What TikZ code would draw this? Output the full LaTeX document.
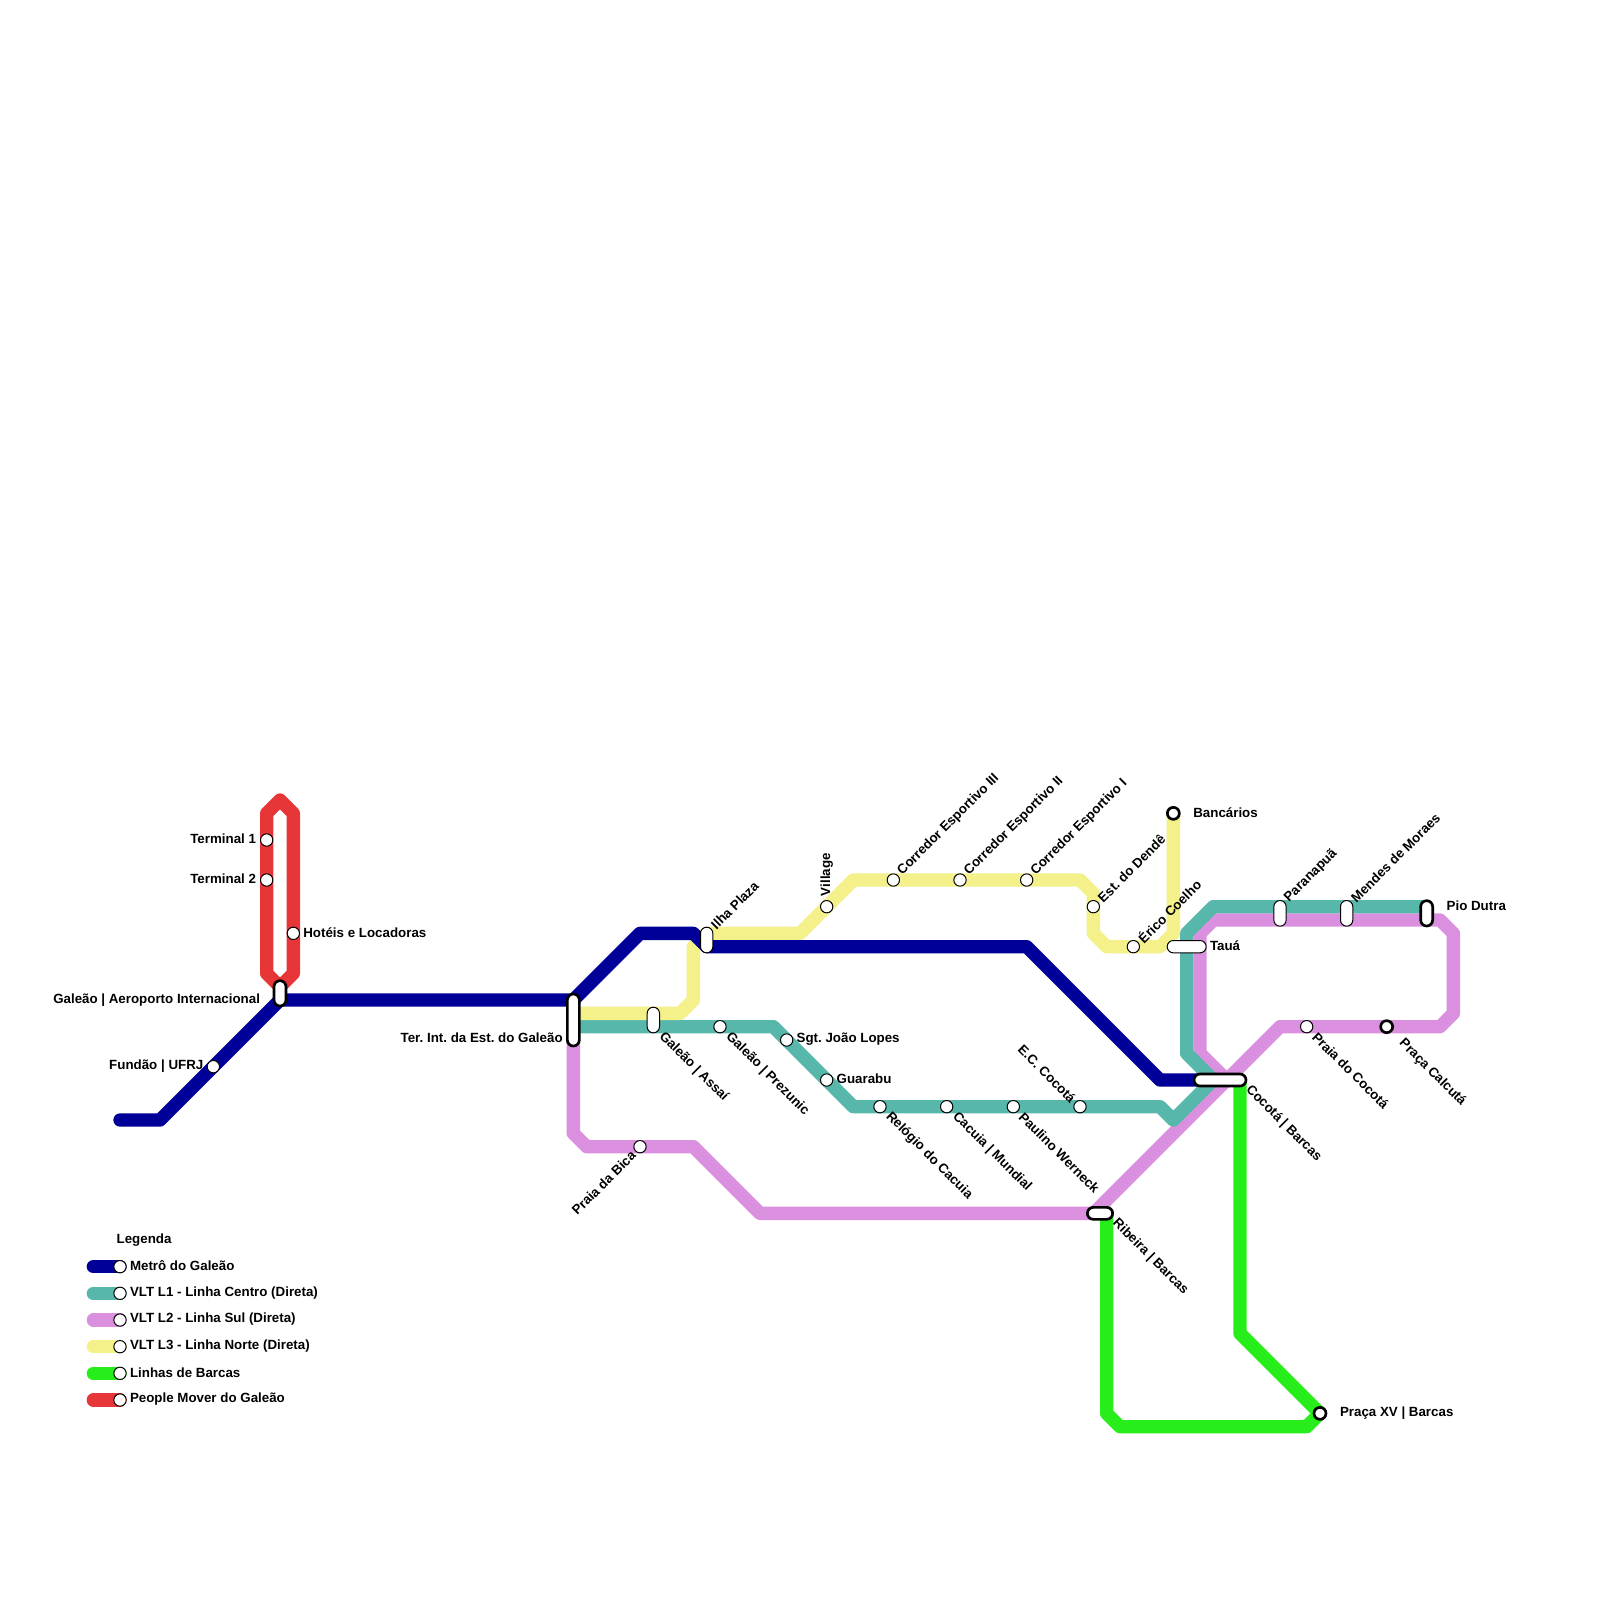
\documentclass[tikz,border=0pt]{standalone}
\usepackage{fontspec}
\setmainfont{Liberation Sans}
\frenchspacing
\definecolor{metroBlue}{HTML}{000099}
\definecolor{vltTeal}{HTML}{58B7AB}
\definecolor{vltPurple}{HTML}{DB8FDF}
\definecolor{vltYellow}{HTML}{F4F08A}
\definecolor{barcaGreen}{HTML}{27EE1B}
\definecolor{moverRed}{HTML}{E73637}
\tikzset{
  linepath/.style={line width=6.667pt, line cap=round, line join=round},
  stopdot/.style={circle, draw=black, fill=white, line width=0.5pt,
    minimum size=6.167pt, inner sep=0pt, outer sep=0pt},
  stopbig/.style={stopdot, line width=1.33pt, minimum size=6pt},
  pillthin/.style={rectangle, draw=black, fill=white, line width=0.5pt,
    rounded corners=3.08pt, inner sep=0pt, outer sep=0pt},
  pillthick/.style={pillthin, line width=1.33pt, rounded corners=3pt},
  stoplabel/.style={font=\bfseries\fontsize{6.667pt}{7.5pt}\selectfont, text=black,
    inner sep=0pt, outer sep=0pt},
}
\begin{document}
\begin{tikzpicture}[x=6.6667pt,y=-6.6667pt]

\fill[white] (0,0) rectangle (120,120);
\useasboundingbox (0,0) rectangle (120,120);

% --- lines ------------------------------------------------------------------
\draw[linepath,vltPurple] (43,78) -- (43,85) -- (44,86) -- (52,86) -- (57,91) -- (82,91) -- (96,77)
  -- (108,77) -- (109,76) -- (109,70) -- (108,69) -- (91,69) -- (90,70) -- (90,79) -- (92,81);
\draw[linepath,vltTeal] (43,77) -- (58,77) -- (64,83) -- (87,83) -- (88,84) -- (91,81) -- (89,79)
  -- (89,70) -- (91,68) -- (107,68);
\draw[linepath,vltYellow] (43,76) -- (51,76) -- (52,75) -- (52,71) -- (53,70) -- (60,70) -- (64,66)
  -- (81,66) -- (82,67) -- (82,70) -- (83,71) -- (87,71) -- (88,70) -- (88,61);
\draw[linepath,metroBlue] (9,84) -- (12,84) -- (21,75) -- (43,75) -- (48,70) -- (52,70) -- (53,71)
  -- (77,71) -- (87,81) -- (90,81);
\draw[linepath,barcaGreen] (83,91) -- (83,106) -- (84,107) -- (98,107) -- (99,106) -- (93,100) -- (93,81);
\draw[linepath,moverRed] (21,74) -- (20,73) -- (20,61) -- (21,60) -- (22,61) -- (22,73) -- cycle;

% --- round stops: name / x / y / text / dx / dy / rotation / anchor ----------
\foreach \stopid/\x/\y/\txt/\dx/\dy/\rot/\anc in {%
    termA/20/63/Terminal 1/-0.8/-0.08/0/east,%
    termB/20/66/Terminal 2/-0.8/-0.08/0/east,%
    hoteis/22/70/Hotéis e Locadoras/0.75/-0.08/0/west,%
    fundao/16/80/Fundão | UFRJ/-0.75/-0.05/0/east,%
    prezunic/54/77/Galeão | Prezunic/0.6/0.6/-45/west,%
    bica/48/86/Praia da Bica/-0.5/0.5/45/east,%
    sgtjoao/59/78/Sgt. João Lopes/0.75/-0.05/0/west,%
    guarabu/62/81/Guarabu/0.75/-0.08/0/west,%
    relogio/66/83/Relógio do Cacuia/0.6/0.6/-45/west,%
    cacuia/71/83/Cacuia | Mundial/0.6/0.6/-45/west,%
    paulino/76/83/Paulino Werneck/0.6/0.6/-45/west,%
    eccocota/81/83/E.C. Cocotá/-0.5/-0.5/-45/east,%
    village/62/68/Village/0/-0.8/90/west,%
    corredorC/67/66/Corredor Esportivo III/0.5/-0.5/45/west,%
    corredorB/72/66/Corredor Esportivo II/0.5/-0.5/45/west,%
    corredorA/77/66/Corredor Esportivo I/0.5/-0.5/45/west,%
    dende/82/68/Est. do Dendê/0.5/-0.5/45/west,%
    erico/85/71/Érico Coelho/0.5/-0.5/45/west,%
    praiacocota/98/77/Praia do Cocotá/0.6/0.6/-45/west}{%
  \node[stopdot] (\stopid) at (\x,\y) {};
  \node[stoplabel,rotate=\rot,anchor=\anc] (\stopid-lab) at (\x+\dx,\y+\dy) {\txt};
}

% --- end stops ---------------------------------------------------------------
\foreach \stopid/\x/\y/\txt/\dx/\dy/\rot/\anc in {%
    bancarios/88/61/Bancários/1.5/-0.08/0/west,%
    praca/104/77/Praça Calcutá/1.1/1.1/-45/west,%
    pracaxv/99/106/Praça XV | Barcas/1.5/-0.05/0/west}{%
  \node[stopbig] (\stopid) at (\x,\y) {};
  \node[stoplabel,rotate=\rot,anchor=\anc] (\stopid-lab) at (\x+\dx,\y+\dy) {\txt};
}

% --- pills: style / trim / name / x / y / w / h / text / dx / dy / rotation / anchor --
\foreach \pst/\trim/\stopid/\x/\y/\w/\h/\txt/\dx/\dy/\rot/\anc in {%
    pillthick/0.667/galeao/21/74.5/1/2/Galeão | Aeroporto Internacional/-1.5/0.5/0/east,%
    pillthick/0.667/terint/43/76.5/1/4/Ter. Int. da Est. do Galeão/-0.8/1.35/0/east,%
    pillthin/0.5/assai/49/76.5/1/2/Galeão | Assaí/0.6/1.1/-45/west,%
    pillthin/0.5/ilha/53/70.5/1/2/Ilha Plaza/0.5/-1/45/west,%
    pillthin/0.5/taua/89/71/3/1/Tauá/1.75/-0.05/0/west,%
    pillthin/0.5/paranapua/96/68.5/1/2/Paranapuã/0.5/-1/45/west,%
    pillthin/0.5/mendes/101/68.5/1/2/Mendes de Moraes/0.5/-1/45/west,%
    pillthick/0.667/pio/107/68.5/1/2/Pio Dutra/1.5/-0.55/0/west,%
    pillthick/0.667/cocota/91.5/81/4/1/Cocotá | Barcas/2.1/0.6/-45/west,%
    pillthick/0.667/ribeira/82.5/91/2/1/Ribeira | Barcas/1.1/0.6/-45/west}{%
  \node[\pst,minimum width={\w*6.6667pt-\trim pt},minimum height={\h*6.6667pt-\trim pt}] (\stopid) at (\x,\y) {};
  \node[stoplabel,rotate=\rot,anchor=\anc] (\stopid-lab) at (\x+\dx,\y+\dy) {\txt};
}

% --- legend ------------------------------------------------------------------
\node[stoplabel,anchor=west] (legtitle) at (8.75,93) {Legenda};
\foreach \col/\y/\keyid/\txt in {%
    metroBlue/95/metro/Metrô do Galeão,%
    vltTeal/97/lone/VLT L1 - Linha Centro (Direta),%
    vltPurple/99/ltwo/VLT L2 - Linha Sul (Direta),%
    vltYellow/101/lthree/VLT L3 - Linha Norte (Direta),%
    barcaGreen/103/barcas/Linhas de Barcas,%
    moverRed/105/mover/People Mover do Galeão}{%
  \draw[linepath,\col] (7,\y) -- (9,\y);
  \node[stopdot] (\keyid) at (9,\y) {};
  \node[stoplabel,anchor=west] (\keyid-lab) at (9.75,\y-0.05) {\txt};
}

\end{tikzpicture}
\end{document}
